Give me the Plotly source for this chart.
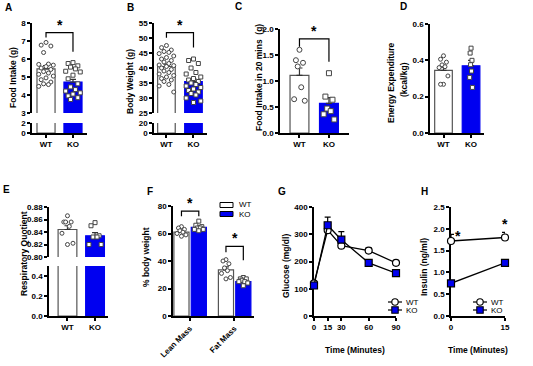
import plotly.graph_objects as go

W, H = 533, 366
FONT = "Liberation Sans"
BLUE = "#0000f0"
WT_EDGE = "#555555"

# ---------------- data ----------------
groups = ["WT", "KO"]

# A: food intake (g)
A_wt = [6.92, 6.77, 6.72, 6.36, 5.72, 5.70, 5.66, 5.58, 5.50, 5.42, 5.30, 5.22, 5.15, 5.05, 4.95, 4.85, 4.72, 4.62, 4.58, 4.48]
A_ko = [5.80, 5.75, 5.62, 5.55, 5.45, 5.32, 5.28, 5.10, 4.90, 4.62, 4.45, 4.30, 4.22, 4.12, 4.05, 3.95, 3.85, 3.75]
A_mean = [5.45, 4.72]
A_sem = [0.18, 0.15]

# B: body weight (g)
B_wt = [47.5, 46.8, 46.0, 45.5, 45.2, 44.8, 44.0, 43.5, 43.0, 42.5, 42.0, 41.5, 41.0, 40.8, 40.5, 40.0,
        39.5, 39.0, 38.5, 38.0, 37.5, 37.0, 36.5, 36.0, 35.5, 34.5, 34.0, 32.0]
B_ko = [43.0, 42.5, 41.5, 40.0, 38.5, 38.0, 37.0, 36.5, 36.0, 35.5, 35.0, 34.5, 34.0, 33.5, 33.0,
        32.5, 32.0, 31.5, 31.0, 30.0, 29.0, 28.5]
B_mean = [40.5, 35.5]
B_sem = [0.8, 0.9]

# C: food intake in 20 mins (g)
C_wt = [1.60, 1.40, 1.35, 1.28, 0.88, 0.65, 0.62]
C_ko = [1.15, 0.70, 0.64, 0.47, 0.42, 0.36, 0.26]
C_mean = [1.11, 0.57]
C_sem = [0.14, 0.11]

# D: energy expenditure (kcal/kg)
D_wt = [0.425, 0.406, 0.390, 0.375, 0.365, 0.360, 0.314, 0.268, 0.268]
D_ko = [0.467, 0.440, 0.400, 0.376, 0.341, 0.306, 0.251]
D_mean = [0.345, 0.370]
D_sem = [0.018, 0.030]

# E: respiratory quotient
E_wt = [0.866, 0.856, 0.856, 0.856, 0.849, 0.838, 0.822, 0.820]
E_ko = [0.855, 0.850, 0.834, 0.832, 0.832, 0.820, 0.820]
E_mean = [0.844, 0.834]
E_sem = [0.006, 0.005]

# F: % body weight
F_cats = ["Lean Mass", "Fat Mass"]
F_wt_mean = [61.0, 33.5]
F_wt_sem = [0.9, 2.2]
F_ko_mean = [64.5, 25.0]
F_ko_sem = [0.8, 0.8]
F_wt_lean = [65, 64, 63, 62, 61, 60, 59, 58]
F_ko_lean = [69, 66, 65, 64, 64, 63, 63, 62]
F_wt_fat = [41, 40, 38, 35, 33, 31, 28, 27]
F_ko_fat = [28, 27, 27, 26, 25, 25, 24, 22]

# G: glucose (mg/dl)
G_time = [0, 15, 30, 60, 90]
G_wt = [120, 315, 258, 240, 195]
G_wt_sem = [5, 8, 5, 10, 8]
G_ko = [112, 333, 280, 195, 157]
G_ko_sem = [5, 30, 30, 8, 6]

# H: insulin (ng/ml)
H_time = [0, 15]
H_wt = [1.72, 1.80]
H_wt_sem = [0.15, 0.12]
H_ko = [0.75, 1.22]
H_ko_sem = [0.03, 0.03]


# ---------------- helpers ----------------
def px_x(p):
    return p / W


def px_y(p):
    return 1 - p / H


def dom_x(a, b):
    return [a / W, b / W]


def dom_y(top, bot):
    return [1 - bot / H, 1 - top / H]


tickfont = dict(family=FONT, size=8, color="black", weight="bold")
base = dict(showline=True, linecolor="black", linewidth=1.5, ticks="outside", ticklen=3,
            tickwidth=1.5, tickcolor="black", showgrid=False, zeroline=False,
            tickfont=tickfont, fixedrange=True, automargin=False)

layout_axes = {}


def add_axes(n, xdom, ydom, xrange, yrange, yticks, yfmt=None, xticks=None, xtext=None,
             showx=True, tickangle=0, ylayer="above traces"):
    xk = "xaxis" if n == 1 else f"xaxis{n}"
    yk = "yaxis" if n == 1 else f"yaxis{n}"
    xa = dict(base, domain=dom_x(*xdom), range=xrange, anchor="y" if n == 1 else f"y{n}")
    if showx:
        xa.update(tickmode="array", tickvals=xticks, ticktext=xtext, tickangle=tickangle)
    else:
        xa.update(showline=False, ticks="", showticklabels=False)
    ya = dict(base, domain=dom_y(*ydom), range=yrange, anchor="x" if n == 1 else f"x{n}",
              tickmode="array", tickvals=yticks, layer=ylayer)
    if yfmt:
        ya["tickformat"] = yfmt
    layout_axes[xk] = xa
    layout_axes[yk] = ya


def ref(n):
    return ("x", "y") if n == 1 else (f"x{n}", f"y{n}")


def jitter(n, spread):
    pattern = [0, -2, 2, -1, 1, -3, 3]
    m = max(abs(p) for p in pattern)
    return [pattern[i % len(pattern)] * spread / m for i in range(n)]


fig = go.Figure()


def bar(n, xpos, mean, sem, color, edge, width, err=True):
    xr, yr = ref(n)
    fig.add_trace(go.Bar(
        x=[xpos], y=[mean], width=width, xaxis=xr, yaxis=yr,
        marker=dict(color=color, line=dict(color=edge, width=1.2)),
        error_y=dict(type="data", symmetric=False, array=[sem], arrayminus=[0],
                     color="#333333", thickness=1.2, width=3, visible=err),
        showlegend=False, hoverinfo="skip"))


def dots(n, xpos, vals, symbol, spread, size=4.0):
    xr, yr = ref(n)
    offs = jitter(len(vals), spread)
    fig.add_trace(go.Scatter(
        x=[xpos + o for o in offs], y=vals, mode="markers", xaxis=xr, yaxis=yr,
        marker=dict(symbol=symbol, size=size, color="white",
                    line=dict(color="#444444", width=1)),
        showlegend=False, hoverinfo="skip", cliponaxis=False))


shapes = []
annotations = []
star_font = dict(family=FONT, size=14, color="black", weight="bold")


def bracket(n, x0, x1, ytop, yl, yr_, star_y):
    xr, yrf = ref(n)
    shapes.append(dict(type="path", xref=xr, yref=yrf,
                       path=f"M {x0},{yl} L {x0},{ytop} L {x1},{ytop} L {x1},{yr_}",
                       line=dict(color="black", width=1.2)))
    annotations.append(dict(text="*", xref=xr, yref=yrf, x=(x0 + x1) / 2, y=ytop,
                            yshift=star_y, showarrow=False, font=star_font,
                            xanchor="center", yanchor="middle"))


def two_group_panel(n_up, n_lo, mean, sem, width):
    for n in [a for a in (n_up, n_lo) if a]:
        bar(n, 0, mean[0], sem[0], "white", WT_EDGE, width, err=(n == n_up))
        bar(n, 1, mean[1], sem[1], BLUE, BLUE, width, err=(n == n_up))


# ---------------- axes ----------------
# A (broken)
add_axes(1, (32, 87), (23, 113), [-0.52, 1.52], [3, 8], [3, 4, 5, 6, 7, 8], showx=False)
add_axes(2, (32, 87), (123, 133), [-0.52, 1.52], [0, 2], [0, 2], xticks=[0, 1], xtext=groups)
# B (broken)
add_axes(3, (154, 207), (23, 113), [-0.46, 1.50], [25, 55], [25, 30, 35, 40, 45, 50, 55], showx=False)
add_axes(4, (154, 207), (123, 133), [-0.46, 1.50], [0, 20], [0, 20], xticks=[0, 1], xtext=groups)
# C
add_axes(5, (280, 349), (29, 133), [-0.66, 1.68], [0, 2], [0, 0.5, 1, 1.5, 2], ".1f",
         xticks=[0, 1], xtext=groups)
# D
add_axes(6, (430, 484), (24, 133), [-0.49, 1.47], [0, 0.6], [0, 0.2, 0.4, 0.6], ".1f",
         xticks=[0, 1], xtext=groups)
# E (broken)
add_axes(7, (49, 108), (207, 257), [-0.67, 1.47], [0.80, 0.88], [0.80, 0.82, 0.84, 0.86, 0.88], ".2f",
         showx=False)
add_axes(8, (49, 108), (266, 316), [-0.67, 1.47], [0, 0.5], [0, 0.2, 0.4], ".1f",
         xticks=[0, 1], xtext=groups)
# F
add_axes(9, (173, 254), (206, 316), [-0.38, 1.44], [0, 80], [0, 20, 40, 60, 80],
         xticks=[0, 1], xtext=F_cats, tickangle=-45)
# G
add_axes(10, (314, 396), (207, 316), [0, 90], [0, 400], [0, 100, 200, 300, 400],
         xticks=G_time, xtext=[str(t) for t in G_time], ylayer="below traces")
# H
add_axes(11, (451, 505), (207, 316), [0, 15], [0, 2.5], [0, 0.5, 1, 1.5, 2, 2.5], ".1f",
         xticks=H_time, xtext=[str(t) for t in H_time], ylayer="below traces")

# ---------------- traces ----------------
two_group_panel(1, 2, A_mean, A_sem, 0.67)
dots(1, 0, A_wt, "circle", 0.27)
dots(1, 1, A_ko, "square", 0.27)
bracket(1, 0, 1, 7.47, 7.2, 6.4, 8)

two_group_panel(3, 4, B_mean, B_sem, 0.65)
dots(3, 0, B_wt, "circle", 0.27)
dots(3, 1, B_ko, "square", 0.27)
bracket(3, 0, 1, 51.8, 50.1, 46.8, 8)

two_group_panel(5, None, C_mean, C_sem, 0.64)
dots(5, 0, C_wt, "circle", 0.18, 5)
dots(5, 1, C_ko, "square", 0.18, 5)
bracket(5, 0, 1, 1.81, 1.66, 1.37, 8)

two_group_panel(6, None, D_mean, D_sem, 0.64)
dots(6, 0, D_wt, "circle", 0.16)
dots(6, 1, D_ko, "square", 0.05)

two_group_panel(7, 8, E_mean, E_sem, 0.68)
dots(7, 0, E_wt, "circle", 0.2)
dots(7, 1, E_ko, "square", 0.22)

# F grouped bars
fw = 0.34
for i in range(2):
    bar(9, i - 0.19, F_wt_mean[i], F_wt_sem[i], "white", WT_EDGE, fw)
    bar(9, i + 0.20, F_ko_mean[i], F_ko_sem[i], BLUE, BLUE, fw)
dots(9, -0.19, F_wt_lean, "circle", 0.1)
dots(9, 0.20, F_ko_lean, "square", 0.1)
dots(9, 0.81, F_wt_fat, "circle", 0.1)
dots(9, 1.20, F_ko_fat, "square", 0.1)
bracket(9, -0.19, 0.20, 76.3, 72.5, 72.5, 8)
bracket(9, 0.81, 1.20, 50.7, 46.3, 40.5, 8)


def line_series(n, t, y, e, symbol, fill):
    xr, yr = ref(n)
    fig.add_trace(go.Scatter(
        x=t, y=y, mode="lines+markers", xaxis=xr, yaxis=yr,
        line=dict(color="black", width=1.3),
        marker=dict(symbol=symbol, size=7, color=fill, line=dict(color="black", width=1.2)),
        error_y=dict(type="data", symmetric=False, array=e, arrayminus=[0] * len(e),
                     color="black", thickness=1.2, width=3),
        showlegend=False, hoverinfo="skip", cliponaxis=False))


line_series(10, G_time, G_wt, G_wt_sem, "circle", "white")
line_series(10, G_time, G_ko, G_ko_sem, "square", BLUE)
line_series(11, H_time, H_wt, H_wt_sem, "circle", "white")
line_series(11, H_time, H_ko, H_ko_sem, "square", BLUE)

annotations.append(dict(text="*", xref="x11", yref="y11", x=1.9, y=1.84, showarrow=False,
                        font=star_font))
annotations.append(dict(text="*", xref="x11", yref="y11", x=15, y=2.1, showarrow=False,
                        font=star_font))

# ---------------- text: letters and axis titles ----------------
letter_font = dict(family=FONT, size=10, color="black", weight="bold")
for txt, (lx, ly) in {"A": (8, 7), "B": (130, 7), "C": (238, 6), "D": (403, 6),
                      "E": (6, 189), "F": (150, 191), "G": (282, 191), "H": (424, 191)}.items():
    annotations.append(dict(text=txt, x=px_x(lx), y=px_y(ly), xref="paper", yref="paper",
                            showarrow=False, font=letter_font, xanchor="center", yanchor="middle"))

title_font = dict(family=FONT, size=8.5, color="black", weight="bold")
ytitles = [
    ("Food Intake (g)", 13, 78),
    ("Body Weight (g)", 130, 82),
    ("Food Intake in 20 mins  (g)", 259, 78),
    ("Energy Expenditure", 391, 83),
    ("(kcal/kg)", 404, 80),
    ("Respiratory Quotient", 24, 254),
    ("% body weight", 146, 257),
    ("Glucose (mg/dl)", 286, 266),
    ("Insulin (ng/ml)", 424, 267),
]
for txt, tx, ty in ytitles:
    annotations.append(dict(text=txt, x=px_x(tx), y=px_y(ty), xref="paper", yref="paper",
                            textangle=-90, showarrow=False, font=title_font,
                            xanchor="center", yanchor="middle"))
for tx in (355, 478):
    annotations.append(dict(text="Time (Minutes)", x=px_x(tx), y=px_y(350), xref="paper", yref="paper",
                            showarrow=False, font=title_font, xanchor="center", yanchor="middle"))

# ---------------- legends (drawn as keys) ----------------
leg_font = dict(family=FONT, size=8, color="black")
# F legend: boxes
for (fill, edge, cy, label) in [("white", "black", 205, "WT"), (BLUE, "black", 214, "KO")]:
    shapes.append(dict(type="rect", xref="paper", yref="paper",
                       x0=px_x(220), x1=px_x(233), y0=px_y(cy + 2.5), y1=px_y(cy - 2.5),
                       fillcolor=fill, line=dict(color=edge, width=1)))
    annotations.append(dict(text=label, x=px_x(237), y=px_y(cy), xref="paper", yref="paper",
                            showarrow=False, font=leg_font, xanchor="left", yanchor="middle"))

# G and H legends: line + marker keys
for cx in (395, 480):
    for (sym, fill, cy, label) in [("circle", "white", 302, "WT"), ("rect", BLUE, 310, "KO")]:
        shapes.append(dict(type="line", xref="paper", yref="paper",
                           x0=px_x(cx - 7), x1=px_x(cx + 7), y0=px_y(cy), y1=px_y(cy),
                           line=dict(color="black", width=1.2)))
        shapes.append(dict(type=sym, xref="paper", yref="paper",
                           xsizemode="pixel", ysizemode="pixel",
                           xanchor=px_x(cx), yanchor=px_y(cy), x0=-3.2, x1=3.2, y0=-3.2, y1=3.2,
                           fillcolor=fill, line=dict(color="black", width=1.1)))
        annotations.append(dict(text=label, x=px_x(cx + 9), y=px_y(cy), xref="paper", yref="paper",
                                showarrow=False, font=leg_font, xanchor="left", yanchor="middle"))

fig.update_layout(
    width=W, height=H, margin=dict(l=0, r=0, t=0, b=0, autoexpand=False),
    paper_bgcolor="white", plot_bgcolor="rgba(0,0,0,0)",
    showlegend=False, barmode="overlay",
    shapes=shapes, annotations=annotations,
    font=dict(family=FONT, color="black"),
    **layout_axes,
)

fig.write_html("out.html", config={"displayModeBar": False},
               post_script="document.body.style.margin='0';document.body.style.overflow='hidden';")
